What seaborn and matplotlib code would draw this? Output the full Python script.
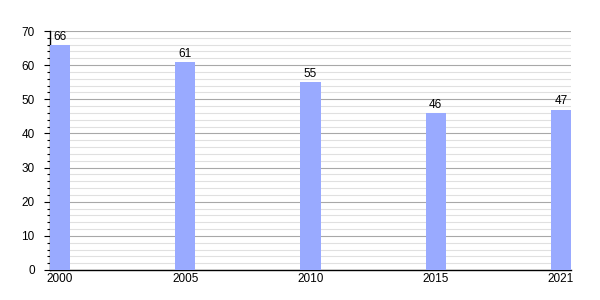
import matplotlib
matplotlib.use("Agg")
import matplotlib.pyplot as plt
import seaborn as sns
import pandas as pd
from matplotlib.ticker import MultipleLocator

years = ["2000", "2005", "2010", "2015", "2021"]
values = [66, 61, 55, 46, 47]

df = pd.DataFrame({"year": years, "value": values})

sns.set_style("white")
plt.rcParams["font.family"] = ["Liberation Sans", "DejaVu Sans"]
plt.rcParams["text.color"] = "black"
plt.rcParams["xtick.color"] = "black"
plt.rcParams["ytick.color"] = "black"

fig = plt.figure(figsize=(6, 3), dpi=100)
ax = fig.add_axes([50/600, 30/300, 521/600, 239/300])

sns.barplot(data=df, x="year", y="value", order=years, color="#99aaff",
            saturation=1, width=0.16, linewidth=0, edgecolor="none", ax=ax, zorder=3)

ax.set_xlim(-0.08, 4.08)
ax.set_ylim(0, 70)
ax.yaxis.set_major_locator(MultipleLocator(10))
ax.yaxis.set_minor_locator(MultipleLocator(2))
ax.grid(which="major", axis="y", color="#a8a8a8", linewidth=0.8, zorder=0)
ax.grid(which="minor", axis="y", color="#e0e0e0", linewidth=0.8, zorder=0)
ax.set_axisbelow(True)

for s in ["top", "right"]:
    ax.spines[s].set_visible(False)
for s in ["left", "bottom"]:
    ax.spines[s].set_color("black")
    ax.spines[s].set_linewidth(1.0)

ax.tick_params(axis="y", which="major", left=True, length=4, width=0.8, labelsize=8.5, color="black", pad=7)
ax.tick_params(axis="y", which="minor", left=True, length=2.5, width=0.8, color="black")
ax.tick_params(axis="x", bottom=False, length=0, labelsize=8.5, pad=2)
ax.set_xlabel("")
ax.set_ylabel("")

for c in ax.containers:
    ax.bar_label(c, labels=[str(v) for v in values], padding=1.5, fontsize=8.5)

fig.savefig("out.png", dpi=100)
